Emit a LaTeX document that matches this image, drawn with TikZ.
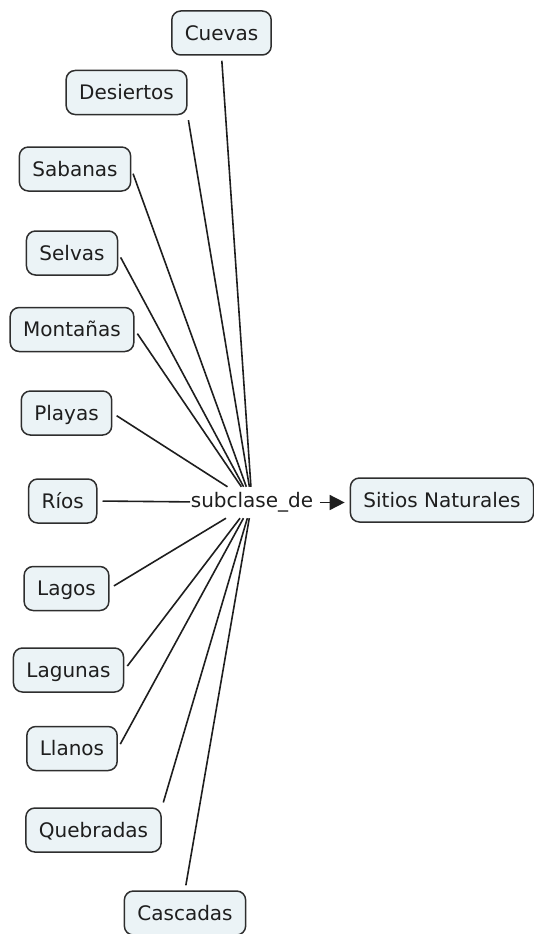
\documentclass[tikz,border=0pt]{standalone}
\usepackage{fontspec}
\setmainfont{DejaVu Sans}
\usetikzlibrary{arrows.meta}
\definecolor{cfill}{HTML}{EBF3F6}
\definecolor{cborder}{HTML}{2E2E2E}
\definecolor{ctext}{HTML}{1E1E1E}
\begin{document}
\begin{tikzpicture}[x=1pt,y=-1pt,
  concept/.style={draw=cborder, fill=cfill, line width=1.5pt, rounded corners=9pt,
    minimum height=44pt, inner xsep=13pt, inner ysep=0pt,
    text height=14.6pt, text depth=0pt, font=\fontsize{20}{24}\selectfont, text=ctext},
  linkphrase/.style={inner xsep=0.5pt, inner ysep=0pt, minimum height=31pt,
    text height=15pt, text depth=6pt, font=\fontsize{20}{24}\selectfont, text=ctext},
  conn/.style={draw=ctext, line width=1.6pt, shorten <=5pt}]
\useasboundingbox (0,0) rectangle (533,934);

\node[concept] (cue) at (221.5,33) {Cuevas};
\node[concept] (des) at (126.5,92.5) {Desiertos};
\node[concept] (sab) at (75,169) {Sabanas};
\node[concept] (sel) at (72,253) {Selvas};
\node[concept] (mon) at (72,329.5) {Montañas};
\node[concept] (pla) at (66.5,413) {Playas};
\node[concept] (rio) at (62.7,501) {Ríos};
\node[concept] (lag) at (66.5,588.5) {Lagos};
\node[concept] (lgn) at (68.5,670) {Lagunas};
\node[concept] (lla) at (72,748.5) {Llanos};
\node[concept] (que) at (93.5,830) {Quebradas};
\node[concept] (cas) at (185,913) {Cascadas};
\node[concept] (sit) at (442,500) {Sitios Naturales};

\node[linkphrase] (lnk) at (252,502.5) {subclase\_de};

\draw[conn] (cue.south) -- (lnk);
\draw[conn] (des.south east) -- (lnk);
\draw[conn] (sab.east) -- (lnk);
\draw[conn] (sel.east) -- (lnk);
\draw[conn] (mon.east) -- (lnk);
\draw[conn] (pla.east) -- (lnk);
\draw[conn] (rio.east) -- (lnk);
\draw[conn] (lag.east) -- (lnk);
\draw[conn] (lgn.east) -- (lnk);
\draw[conn] (lla.east) -- (lnk);
\draw[conn] (que.north east) -- (lnk);
\draw[conn] (cas.north) -- (lnk);

\draw[conn, shorten <=6pt, shorten >=5pt, -{Triangle[length=15pt,width=15pt]}]
  (lnk.east) -- (lnk.east -| sit.west);
\end{tikzpicture}
\end{document}
